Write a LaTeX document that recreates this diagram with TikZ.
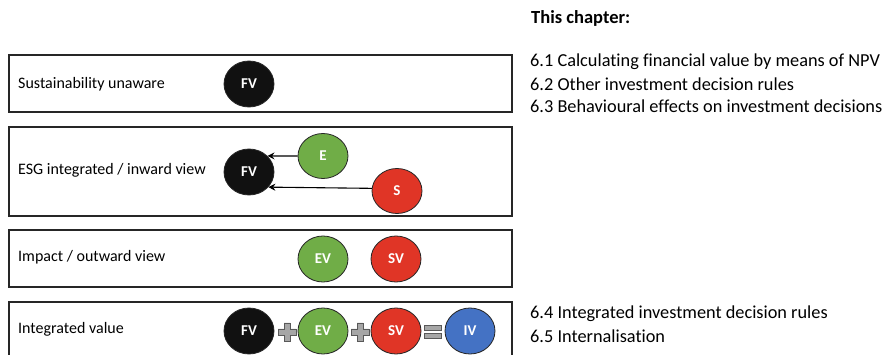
\documentclass[tikz,border=0pt]{standalone}
\usepackage{fontspec}
\setmainfont{Carlito}[Ligatures=NoCommon]
\usetikzlibrary{shapes.geometric,arrows.meta,calc}
\definecolor{evgreen}{HTML}{70AD47}
\definecolor{svred}{HTML}{E03526}
\definecolor{ivblue}{HTML}{4472C4}
\definecolor{fvblack}{HTML}{111111}
\definecolor{opgray}{HTML}{A6A6A6}
\definecolor{opedge}{HTML}{595959}
\tikzset{
  band/.style={draw=black!85, line width=1.4pt},
  rowlabel/.style={anchor=west, inner sep=0pt, font=\fontsize{16}{19}\selectfont},
  listline/.style={anchor=west, inner sep=0pt, font=\fontsize{18.3}{22}\selectfont},
  valcircle/.style={ellipse, draw=black!85, line width=0.8pt, minimum width=50pt,
    minimum height=46pt, inner sep=0pt, text=white, font=\bfseries\fontsize{15}{17}\selectfont},
  fv/.style={valcircle, fill=fvblack},
  ev/.style={valcircle, fill=evgreen},
  sv/.style={valcircle, fill=svred},
  iv/.style={valcircle, fill=ivblue},
  feed/.style={line width=1.1pt, -{Stealth[length=7pt,width=7pt]}},
  opsign/.style={fill=opgray, draw=opedge, line width=0.6pt}
}
\begin{document}
\begin{tikzpicture}[x=1pt, y=-1pt]
\clip (0,0) rectangle (887,355);
\fill[white] (0,0) rectangle (887,355);

% bands
\draw[band] (9,55) rectangle (512,112);
\draw[band] (9,127) rectangle (512,216);
\draw[band] (9,230) rectangle (512,287);
\draw[band] (9,302) rectangle (512,370);

% row labels
\node[rowlabel] (l1) at (18,84) {Sustainability unaware};
\node[rowlabel] (l2) at (18,170) {ESG integrated / inward view};
\node[rowlabel] (l3) at (18,257) {Impact / outward view};
\node[rowlabel] (l4) at (18,329) {Integrated value};

% row 1
\node[fv] (fv1) at (249,84) {FV};

% row 2
\node[fv] (fv2) at (249,172) {FV};
\node[ev, minimum height=45pt] (e2) at (323,156) {E};
\node[sv, minimum height=45pt] (s2) at (397,191) {S};
\draw[feed] (e2.west) -- (fv2.41);
\draw[feed] (s2.174) -- (fv2.-38);

% row 3
\node[ev] (ev3) at (323,259) {EV};
\node[sv] (sv3) at (396,259) {SV};

% row 4
\node[fv] (fv4) at (249,331) {FV};
\node[ev] (ev4) at (323,331) {EV};
\node[sv] (sv4) at (396,331) {SV};
\node[iv] (iv4) at (470,331) {IV};

% plus signs (y grows downwards)
\foreach \cx/\nm in {287/p1, 360/p2}{
  \coordinate (\nm) at (\cx,332);
  \filldraw[opsign]
    ($(\nm)+(-3,-9)$) -- ++(6,0) -- ++(0,6) -- ++(6,0) -- ++(0,6)
    -- ++(-6,0) -- ++(0,6) -- ++(-6,0) -- ++(0,-6) -- ++(-6,0) -- ++(0,-6)
    -- ++(6,0) -- cycle;
}
% equals sign
\coordinate (eq) at (433,332);
\filldraw[opsign] ($(eq)+(-8.5,-6.5)$) rectangle ($(eq)+(8.5,-1.5)$);
\filldraw[opsign] ($(eq)+(-8.5,1.5)$) rectangle ($(eq)+(8.5,6.5)$);

% chapter contents
\node[listline, font=\bfseries\fontsize{18.5}{22}\selectfont] (hd) at (531,18) {This chapter:};
\node[listline] (c1) at (530,62) {6.1 Calculating financial value by means of NPV};
\node[listline] (c2) at (530,84) {6.2 Other investment decision rules};
\node[listline] (c3) at (530,106) {6.3 Behavioural effects on investment decisions};
\node[listline] (c4) at (530,314) {6.4 Integrated investment decision rules};
\node[listline] (c5) at (530,336) {6.5 Internalisation};
\end{tikzpicture}
\end{document}
